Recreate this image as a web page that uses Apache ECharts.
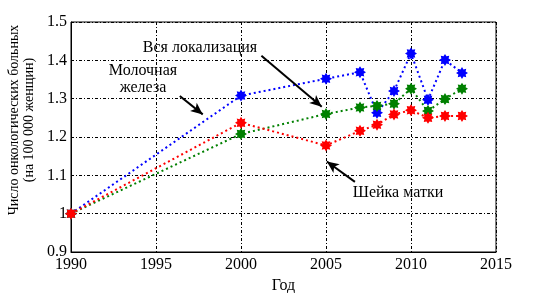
<!DOCTYPE html>
<html>
<head>
<meta charset="utf-8">
<script src="https://cdn.jsdelivr.net/npm/echarts@6/dist/echarts.min.js"></script>
<style>
  html, body { margin: 0; padding: 0; background: #fff; }
  #chart { width: 549px; height: 293px; }
</style>
</head>
<body>
<div id="chart"></div>
<script>
const years = [1990, 2000, 2005, 2007, 2008, 2009, 2010, 2011, 2012, 2013]
const breast = [1.0, 1.308, 1.352, 1.369, 1.263, 1.32, 1.418, 1.297, 1.401, 1.367]
const allSites = [1.0, 1.208, 1.26, 1.277, 1.281, 1.287, 1.326, 1.268, 1.299, 1.326]
const cervix = [1.0, 1.237, 1.178, 1.216, 1.232, 1.259, 1.27, 1.25, 1.255, 1.255]
const xTicks = [1990, 1995, 2000, 2005, 2010, 2015]
const yTicks = [0.9, 1.0, 1.1, 1.2, 1.3, 1.4, 1.5]

const font = 'Liberation Serif'

// asterisk-like marker: 8 point star around a dot
let star = ''
for (let i = 0; i < 16; i++) {
  const a = i * Math.PI / 8
  const r = i % 2 === 0 ? 10 : 6.5
  star += (i === 0 ? 'M' : 'L') + (10 + r * Math.sin(a)).toFixed(2) + ' ' + (10 - r * Math.cos(a)).toFixed(2)
}
star = 'path://' + star + 'Z'

const pair = (arr) => years.map((y, i) => [y, arr[i]])

const mkSeries = (name, data, color) => ({
  name,
  type: 'line',
  data: pair(data),
  symbol: star,
  symbolSize: 12,
  itemStyle: { color },
  lineStyle: { color, width: 2, type: [2, 3] },
  z: 3
})

const arrow = (from, to) => [
  { coord: from, symbol: 'none' },
  { coord: to, symbol: 'arrow' }
]

const txt = (text, x, y, size, extra) => ({
  type: 'text', x, y,
  style: Object.assign({ text, font: size + 'px "Liberation Serif"', fill: '#000', align: 'center', verticalAlign: 'middle' }, extra || {})
})

const chart = echarts.init(document.getElementById('chart'))
chart.setOption({
  animation: false,
  grid: { left: 71, right: 53, top: 22, bottom: 41, outerBoundsMode: 'none', show: true, borderColor: '#000', borderWidth: 1 },
  xAxis: {
    type: 'value',
    min: 1990, max: 2015, interval: 5,
    name: 'Год',
    nameLocation: 'middle',
    nameGap: 25,
    nameTextStyle: { fontFamily: font, fontSize: 16, color: '#000' },
    axisLine: { lineStyle: { color: '#000' } },
    axisTick: { show: false },
    axisLabel: { fontFamily: font, fontSize: 16, color: '#000', margin: 5, formatter: v => String(v) },
    splitLine: { lineStyle: { color: '#000', type: [3, 2, 1, 2], width: 1 } }
  },
  yAxis: {
    type: 'value',
    min: 0.9, max: 1.5, interval: 0.1,
    axisLine: { show: true, lineStyle: { color: '#000' } },
    axisTick: { show: false },
    axisLabel: { fontFamily: font, fontSize: 16, color: '#000', margin: 4, formatter: v => String(+v.toFixed(1)) },
    splitLine: { lineStyle: { color: '#000', type: [3, 2, 1, 2], width: 1 } }
  },
  series: [
    mkSeries('Молочная железа', breast, '#0000ff'),
    mkSeries('Вся локализация', allSites, '#008000'),
    mkSeries('Шейка матки', cervix, '#ff0000'),
    {
      type: 'line',
      data: [],
      markLine: {
        silent: true,
        symbolSize: [8, 12],
        label: { show: false },
        lineStyle: { color: '#000', width: 2, type: 'solid' },
        data: [
          arrow([2001.2, 1.412], [2004.75, 1.279]),
          arrow([1996.4, 1.307], [1997.75, 1.259]),
          arrow([2006.7, 1.083], [2005.05, 1.136])
        ]
      }
    }
  ],
  graphic: [
    Object.assign(txt('Число онкологических больных\n(на 100 000 женщин)', 22, 120, 14, { lineHeight: 15 }), { rotation: Math.PI / 2 }),
    txt('Вся локализация', 200, 48, 16),
    txt('Молочная\nжелеза', 143, 79, 16, { lineHeight: 17 }),
    txt('Шейка матки', 398, 193, 16)
  ]
})
</script>
</body>
</html>
